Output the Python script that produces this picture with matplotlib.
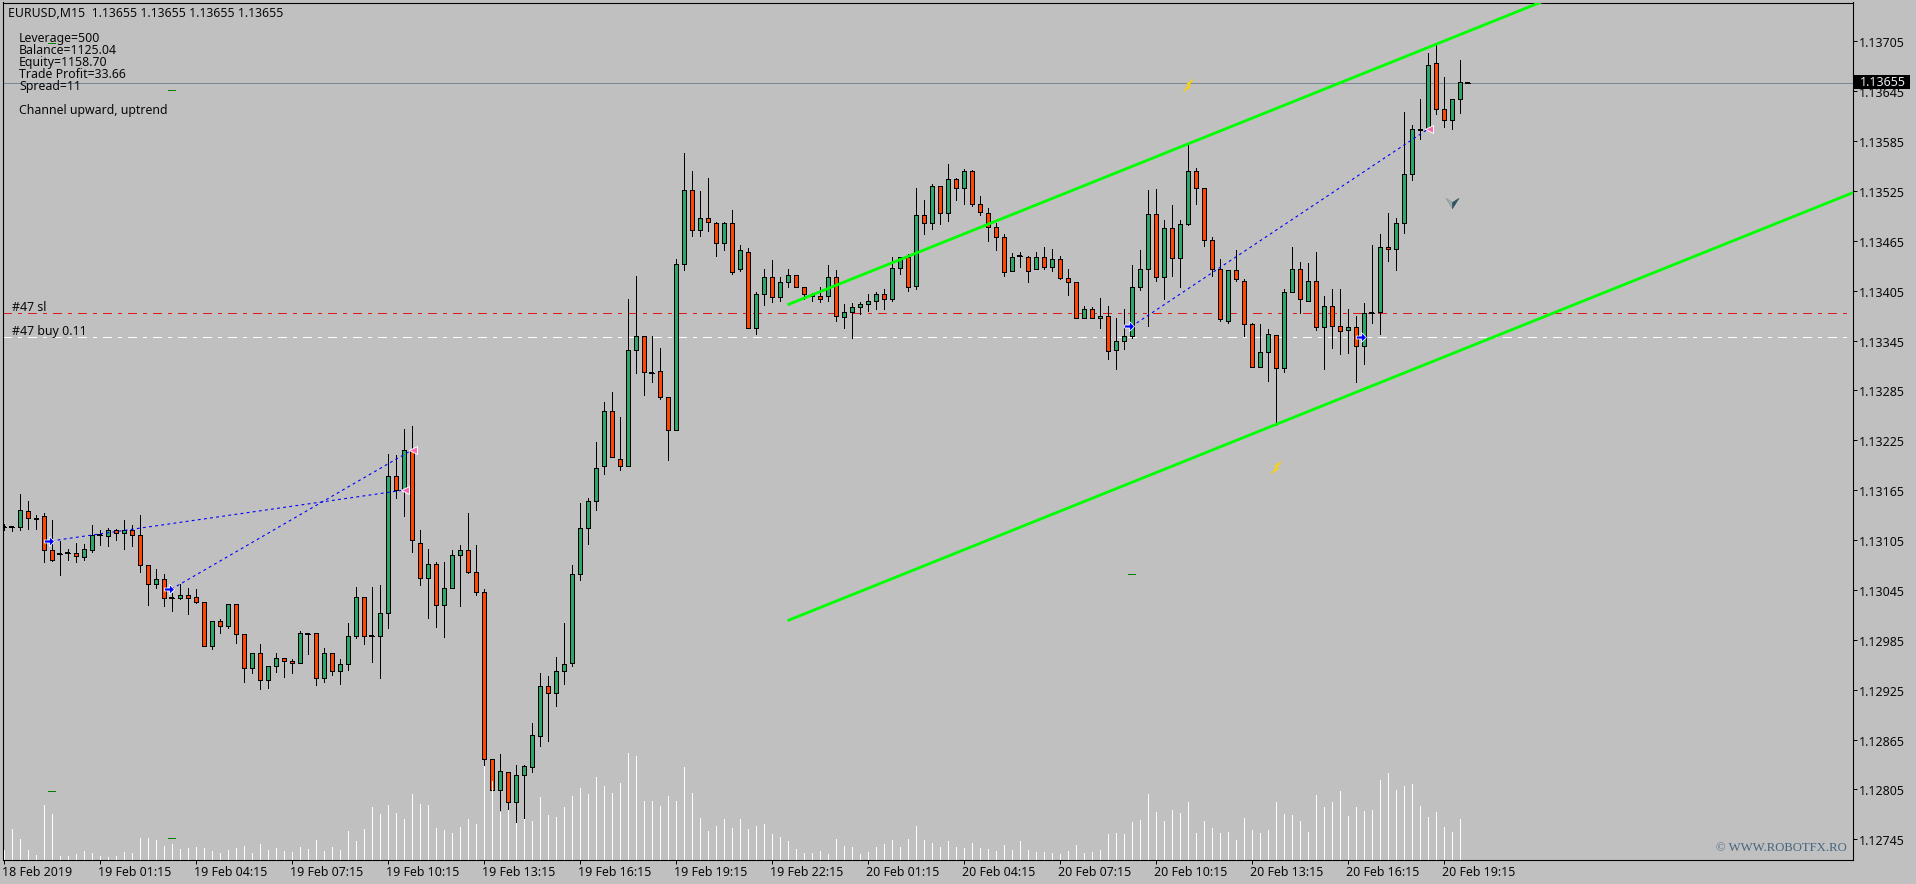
import numpy as np
import matplotlib
matplotlib.use("Agg")
import matplotlib.pyplot as plt
from matplotlib.patches import Rectangle
from matplotlib.path import Path
from matplotlib.transforms import ScaledTranslation

W, H = 1916, 884
BG = "#C0C0C0"
BULL = "#2EA668"
BEAR = "#FF4500"
FONT = "Noto Sans"

opens = [
113121,113121,113121,113140,113132,113134,113093,113088,113089,113089,
113085,113093,113111,113110,113117,113113,113117,113111,113075,113052,
113058,113035,113035,113039,113036,113030,112977,113008,113002,113028,
112992,112951,112969,112937,112953,112963,112959,112957,112992,112993,
112939,112969,112948,112956,112990,113036,112990,112989,113017,113182,
113165,113213,113102,113059,113076,113027,113047,113087,113093,113066,
113043,112841,112804,112826,112790,112822,112832,112869,112930,112921,
112948,112957,113064,113119,113152,113194,113260,113203,113194,113334,
113351,113306,113308,113277,113237,113437,113526,113478,113493,113487,
113462,113486,113431,113452,113360,113401,113422,113397,113415,113424,
113410,113401,113399,113399,113421,113373,113379,113385,113389,113393,
113401,113395,113432,113446,113411,113496,113486,113531,113498,113539,
113528,113549,113509,113499,113481,113470,113429,113447,113446,113431,
113446,113434,113443,113420,113415,113372,113383,113372,113375,113334,
113345,113351,113410,113431,113497,113421,113480,113444,113485,113549,
113528,113466,113431,113369,113430,113417,113365,113313,113331,113352,
113312,113404,113431,113393,113417,113361,113387,113362,113358,113361,
113338,113378,113379,113458,113455,113487,113545,113600,113598,113679,
113623,113610,113636,113655]
highs = [
113124,113122,113160,113152,113135,113137,113129,113104,113094,113102,
113100,113123,113117,113119,113118,113129,113123,113135,113075,113070,
113064,113041,113052,113047,113046,113031,113008,113010,113028,113028,
112992,112969,112980,112954,112969,112963,112962,112995,112993,112993,
112975,112969,112962,113005,113049,113037,113048,113051,113208,113207,
113238,113242,113117,113094,113079,113079,113093,113099,113138,113099,
113046,112842,112848,112826,112834,112834,112885,112945,112941,112964,
113005,113075,113150,113156,113223,113271,113283,113253,113395,113423,
113351,113351,113336,113277,113443,113571,113549,113525,113540,113488,
113488,113502,113460,113456,113404,113431,113442,113421,113431,113424,
113410,113402,113410,113436,113430,113389,113390,113391,113401,113404,
113407,113446,113446,113449,113528,113514,113533,113531,113557,113541,
113551,113550,113519,113504,113486,113473,113450,113451,113447,113452,
113457,113455,113447,113431,113415,113386,113385,113396,113386,113372,
113383,113436,113454,113526,113527,113490,113508,113490,113580,113553,
113528,113469,113443,113430,113454,113419,113366,113365,113359,113352,
113407,113457,113440,113438,113451,113399,113407,113407,113383,113374,
113390,113460,113473,113499,113492,113620,113604,113635,113691,113700,
113662,113636,113683,113655]
lows = [
113117,113116,113117,113118,113118,113079,113080,113063,113081,113079,
113081,113091,113099,113098,113105,113094,113098,113067,113027,113047,
113026,113020,113034,113016,113029,112977,112974,112993,112999,112981,
112934,112945,112926,112927,112946,112940,112945,112957,112968,112931,
112934,112943,112932,112949,112987,112980,112958,112939,112999,113156,
113134,113091,113051,113011,113000,112988,113047,113026,113065,113039,
112833,112804,112780,112780,112765,112771,112826,112857,112863,112905,
112932,112954,113057,113100,113141,113185,113205,113189,113194,113306,
113280,113295,113275,113201,113237,113430,113471,113471,113477,113447,
113454,113425,113429,113360,113353,113388,113391,113393,113409,113409,
113395,113393,113391,113393,113369,113360,113348,113377,113381,113383,
113383,113393,113425,113405,113407,113473,113479,113485,113489,113514,
113509,113507,113496,113465,113454,113423,113429,113433,113415,113431,
113431,113429,113419,113400,113372,113372,113372,113360,113323,113311,
113335,113348,113406,113362,113417,113395,113423,113409,113484,113509,
113459,113423,113369,113366,113417,113351,113313,113313,113296,113243,
113307,113403,113378,113393,113358,113311,113336,113329,113330,113295,
113317,113366,113353,113441,113430,113474,113538,113588,113598,113618,
113602,113600,113619,113655]
closes = [
113121,113121,113141,113132,113130,113093,113081,113088,113089,113086,
113094,113111,113111,113117,113113,113117,113111,113075,113052,113058,
113035,113035,113039,113035,113031,112977,113008,113002,113028,112992,
112951,112969,112937,112953,112963,112959,112957,112993,112992,112939,
112969,112948,112956,112990,113036,112990,112990,113017,113182,113165,
113213,113105,113059,113076,113027,113047,113087,113093,113066,113043,
112841,112804,112827,112790,112822,112833,112870,112930,112921,112948,
112956,113064,113119,113152,113192,113260,113205,113194,113334,113351,
113307,113306,113277,113237,113437,113526,113478,113493,113488,113462,
113486,113428,113454,113360,113401,113422,113397,113415,113424,113409,
113401,113398,113395,113421,113375,113379,113385,113389,113392,113401,
113395,113432,113446,113410,113496,113486,113531,113498,113539,113528,
113549,113509,113500,113481,113470,113428,113446,113447,113429,113446,
113434,113443,113420,113415,113372,113383,113372,113375,113333,113345,
113351,113410,113431,113497,113421,113480,113444,113485,113549,113528,
113466,113431,113371,113430,113419,113365,113313,113331,113353,113312,
113404,113431,113395,113417,113361,113387,113362,113357,113361,113338,
113378,113378,113458,113455,113487,113545,113600,113598,113677,113623,
113610,113636,113656,113655]
volumes = [
31,94,64,31,16,166,139,13,13,19,
28,22,13,10,13,25,22,67,67,61,
43,49,34,37,40,37,28,22,31,37,
43,22,49,31,37,28,25,40,34,61,
28,40,31,88,58,94,160,139,166,142,
124,199,169,166,97,91,82,100,124,109,
283,238,145,151,111,124,118,190,136,130,
160,193,217,199,250,223,202,232,322,313,
178,178,163,193,178,280,202,127,88,103,
124,97,124,94,103,109,79,70,58,34,
22,22,28,19,64,43,40,19,25,40,
49,61,40,64,103,61,52,40,58,40,
37,52,37,34,28,46,31,58,31,25,
25,22,19,28,46,22,25,31,79,82,
79,115,121,199,145,118,151,142,175,82,
118,97,82,85,61,127,91,82,91,175,
139,136,118,85,196,160,175,208,133,160,
148,151,241,262,211,223,229,163,130,145,
100,85,124,1]

y_ticks = [112745,112805,112865,112925,112985,113045,113105,113165,113225,
           113285,113345,113405,113465,113525,113585,113645,113705]
x_tick_bars = list(range(0, 181, 12))
x_tick_labels = ["18 Feb 2019", "19 Feb 01:15", "19 Feb 04:15", "19 Feb 07:15",
                 "19 Feb 10:15", "19 Feb 13:15", "19 Feb 16:15", "19 Feb 19:15",
                 "19 Feb 22:15", "20 Feb 01:15", "20 Feb 04:15", "20 Feb 07:15",
                 "20 Feb 10:15", "20 Feb 13:15", "20 Feb 16:15", "20 Feb 19:15"]

channel_bars = [98, 231.2]
channel_upper = [113388, 113903]
channel_lower = [113008, 113523]
stop_price = 113378
buy_price = 113349
bid_price = 113655

trade_open_bars = [6, 21, 141, 170]
trade_open_prices = [113104, 113046, 113362, 113349]
trade_close_bars = [50, 51, 178]
trade_close_prices = [113165, 113213, 113599]

dash_bars = [6, 6, 21, 21, 141]
dash_prices = [113703, 112803, 113646, 112746, 113064]
flash_bars = [148, 159]
flash_prices = [113652, 113193]
dart_bar = [181]
dart_price = [113511]

info_lines = ["Leverage=500", "Balance=1125.04", "Equity=1158.70",
              "Trade Profit=33.66", "Spread=11"]

px = lambda n: n * 0.72
O, Hi, Lo, C = [np.array(a, float) / 1e5 for a in (opens, highs, lows, closes)]
bars = np.arange(len(O))

fig = plt.figure(figsize=(W / 100, H / 100), dpi=100, facecolor=BG)
L, R, T, B = 2.5, 1852.5, 2.5, 860.3
rect = [L / W, 1 - B / H, (R - L) / W, (B - T) / H]
ax = fig.add_axes(rect, facecolor=BG)
ax.set_xlim((L - 3.5) / 8, (R - 3.5) / 8)
scale = 0.83125e5
ax.set_ylim(1.13705 - (B - 41.3) / scale, 1.13705 + (41.3 - T) / scale)
for s in ax.spines.values():
    s.set_linewidth(px(1.1))
    s.set_color("black")

# horizontal levels
dashdot = (0, (9, 6, 3, 6))
ax.axhline(stop_price / 1e5, color="#E01B1B", lw=px(1), ls=dashdot, antialiased=False, zorder=1)
ax.axhline(buy_price / 1e5, color="white", lw=px(1), ls=dashdot, antialiased=False, zorder=1)
ax.axhline(bid_price / 1e5, color="#778899", lw=px(1), antialiased=False, zorder=1)

# candles
ax.vlines(bars, Lo, Hi, color="black", lw=px(1), antialiased=False, zorder=2)
colors = [BULL if c > o else BEAR if c < o else "black" for o, c in zip(O, C)]
bottoms = np.minimum(O, C)
heights = np.abs(C - O)
ax.bar(bars, heights, bottom=bottoms, width=4 / 8, color=colors, edgecolor="black",
       linewidth=px(1), antialiased=False, zorder=3)
flat = heights == 0
ax.hlines(O[flat], bars[flat] - 0.31, bars[flat] + 0.31, color="black",
          lw=px(1.5), antialiased=False, zorder=3)

# channel
ch = np.array(channel_bars)
for series in (channel_upper, channel_lower):
    ax.plot(ch, np.array(series) / 1e5, color="#00FF00", lw=px(2.8), zorder=4,
            solid_capstyle="butt", antialiased=True)

# closed trades
for a, pa, b, pb in zip(trade_open_bars, trade_open_prices, trade_close_bars, trade_close_prices):
    ax.plot([a, b], [pa / 1e5, pb / 1e5], color="#0000FF", lw=px(1.1), ls=(0, (2.6, 3)),
            antialiased=True, zorder=4)
arrow = Path([(-1, 0.3), (0, 0.3), (0, 1), (1, 0), (0, -1), (0, -0.3), (-1, -0.3), (-1, 0.3)], closed=True)
ax.plot(np.array(trade_open_bars) - 0.35, np.array(trade_open_prices) / 1e5, ls="none", marker=arrow,
        ms=px(10), mfc="#0000FF", mec="white", mew=px(0.8), zorder=5)
ax.plot(np.array(trade_close_bars) + 0.2, np.array(trade_close_prices) / 1e5, ls="none", marker="<",
        ms=px(8), mfc="#FF69B4", mec="white", mew=px(1), zorder=5)

# small marks
ax.hlines(np.array(dash_prices) / 1e5, np.array(dash_bars) - 0.45, np.array(dash_bars) + 0.45,
          color="#008000", lw=px(1), antialiased=False, zorder=5)
flash = Path([(0.8, 1), (-0.3, 0.2), (0.1, 0.1), (-0.8, -1), (0.3, -0.2), (-0.1, -0.1), (0.8, 1)], closed=True)
ax.plot(flash_bars, np.array(flash_prices) / 1e5, ls="none", marker=flash, ms=px(12),
        mfc="#FFE000", mec="#FFD000", mew=0.6, zorder=5)
left = Path([(-1, 0.8), (0, -0.8), (0, 0.15), (-1, 0.8)], closed=True)
right = Path([(1, 0.8), (0, -0.8), (0, 0.15), (1, 0.8)], closed=True)
ax.plot(dart_bar, np.array(dart_price) / 1e5, ls="none", marker=left, ms=px(13), mfc="#A3AFAF", mec="#7F9090", mew=0.4, zorder=5)
ax.plot(dart_bar, np.array(dart_price) / 1e5, ls="none", marker=right, ms=px(13), mfc="#2F4F5F", mec="#2F4F5F", mew=0.4, zorder=5)

# axes
ax.yaxis.tick_right()
ax.set_yticks(np.array(y_ticks) / 1e5)
ax.set_yticklabels([f"{v / 1e5:.5f}" for v in y_ticks], fontsize=px(12.4), family=FONT, color="#0A0A0A")
ax.tick_params(axis="y", length=px(3.5), width=px(1), pad=px(2.5), color="black")
for lab in ax.get_yticklabels():
    lab.set_transform(lab.get_transform() + ScaledTranslation(0, -1 / 100, fig.dpi_scale_trans))
ax.set_xticks(x_tick_bars)
ax.set_xticklabels(x_tick_labels, fontsize=px(12.4), family=FONT, color="#0A0A0A", ha="left")
ax.tick_params(axis="x", length=px(4), width=px(1), pad=px(1.5), color="black")
for lab in ax.get_xticklabels():
    lab.set_transform(lab.get_transform() + ScaledTranslation(-1 / 100, 0, fig.dpi_scale_trans))

# volume overlay
axv = fig.add_axes(rect, facecolor="none", sharex=ax)
axv.set_ylim(0, (B - T) * 3)
axv.axis("off")
axv.vlines(bars, 0, volumes, color="white", lw=px(1), antialiased=False)

# text
def tx(x, y, s, size=12.4, color="#0A0A0A", family=FONT, **kw):
    return fig.text(x / W, 1 - y / H, s, fontsize=px(size), color=color, family=family,
                    va="center", ha=kw.pop("ha", "left"), **kw)

tx(7.5, 13.7, "EURUSD,M15  1.13655 1.13655 1.13655 1.13655", size=12.3)
for y, s in zip([38.7, 50.7, 62.7, 74.3, 86.7], info_lines):
    tx(19, y, s, size=12.3)
tx(19, 110.3, "Channel upward, uptrend", size=12.3)
tx(12, 307.5, "#47 sl")
tx(12, 332, "#47 buy 0.11")
tx(1847, 848, "\u00a9 WWW.ROBOTFX.RO", size=12.8, color="#476680", family="Liberation Serif", ha="right")

fig.add_artist(Rectangle((1854 / W, 1 - 88.7 / H), 56 / W, 13.7 / H, transform=fig.transFigure,
                         facecolor="black", edgecolor="none", zorder=5))
tx(1859.5, 83, f"{bid_price / 1e5:.5f}", color="#E8EEF2", zorder=6)

fig.savefig("out.png", dpi=100, facecolor=BG)
